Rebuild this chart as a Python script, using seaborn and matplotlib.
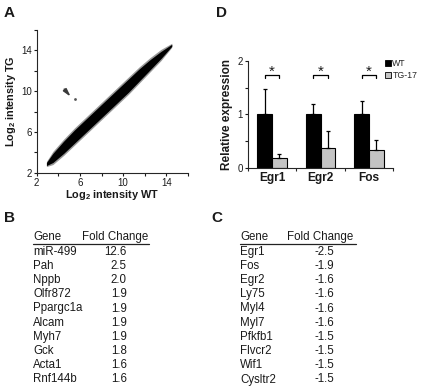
import matplotlib
matplotlib.use("Agg")
import matplotlib.pyplot as plt
from matplotlib.patches import Patch
import seaborn as sns
import pandas as pd
import numpy as np

# ---- Panel A: microarray cloud (band) ----
cloud_x = [2.9, 3.5, 4.5, 5.5, 6.5, 7.5, 8.5, 9.5, 10.5, 11.5, 12.5, 13.5, 14.5]
cloud_lo = [2.7, 3.0, 3.9, 4.9, 5.9, 6.9, 7.9, 8.9, 9.9, 11.0, 12.1, 13.2, 14.4]
cloud_hi = [3.0, 3.9, 5.1, 6.2, 7.2, 8.2, 9.2, 10.2, 11.2, 12.2, 13.1, 13.9, 14.6]
halo_lo = [2.6, 2.8, 3.7, 4.7, 5.7, 6.7, 7.7, 8.7, 9.7, 10.8, 11.9, 13.0, 14.3]
halo_hi = [3.1, 4.1, 5.3, 6.4, 7.4, 8.4, 9.4, 10.4, 11.4, 12.4, 13.3, 14.1, 14.7]
outlier_wt = [5.5]
outlier_tg = [9.2]

# ---- Panel B / C: tables ----
up_genes = ["miR-499", "Pah", "Nppb", "Olfr872", "Ppargc1a", "Alcam", "Myh7", "Gck", "Acta1", "Rnf144b"]
up_fold = ["12.6", "2.5", "2.0", "1.9", "1.9", "1.9", "1.9", "1.8", "1.6", "1.6"]
down_genes = ["Egr1", "Fos", "Egr2", "Ly75", "Myl4", "Myl7", "Pfkfb1", "Flvcr2", "Wif1", "Cysltr2"]
down_fold = ["-2.5", "-1.9", "-1.6", "-1.6", "-1.6", "-1.6", "-1.5", "-1.5", "-1.5", "-1.5"]

# ---- Panel D: qPCR ----
qpcr_genes = ["Egr1", "Egr2", "Fos"]
wt_mean = [1.0, 1.0, 1.0]
wt_err = [0.47, 0.20, 0.25]
tg_mean = [0.19, 0.36, 0.33]
tg_err = [0.06, 0.33, 0.18]

sns.set_style("ticks")
plt.rcParams["font.family"] = ["Liberation Sans", "DejaVu Sans"]
plt.rcParams["mathtext.fontset"] = "custom"
plt.rcParams["mathtext.rm"] = "Liberation Sans"
plt.rcParams["mathtext.bf"] = "Liberation Sans:bold"

W, H = 421, 390
fig = plt.figure(figsize=(W / 100, H / 100), dpi=100)


def px_axes(left, top, right, bottom):
    return fig.add_axes([left / W, 1 - bottom / H, (right - left) / W, (bottom - top) / H])


txt = "#1a1a1a"

# ---------------- A ----------------
axA = px_axes(36.7, 30, 188, 172.7)
axA.fill_between(cloud_x, halo_lo, halo_hi, color="#333333", alpha=0.5, lw=0)
axA.fill_between(cloud_x, cloud_lo, cloud_hi, color="black", lw=0)
sns.scatterplot(x=outlier_wt, y=outlier_tg, ax=axA, color="#555555", s=4, linewidth=0)
axA.annotate("", xy=(5.15, 9.45), xytext=(4.55, 10.2),
             arrowprops=dict(arrowstyle="-|>,head_length=0.45,head_width=0.12",
                             color="#3a3a3a", lw=1.1, shrinkA=0, shrinkB=0))
axA.set_xlim(2, 16)
axA.set_ylim(2, 16)
axA.set_xticks(np.arange(2, 17, 2))
axA.set_yticks(np.arange(2, 17, 2))
axA.set_xticklabels([str(v) if v % 4 == 2 else "" for v in range(2, 17, 2)])
axA.set_yticklabels([str(v) if v % 4 == 2 else "" for v in range(2, 17, 2)])
axA.tick_params(labelsize=7, length=2.5, width=0.8, pad=1, colors=txt)
axA.set_xlabel(r"Log$_\mathbf{2}$ intensity WT", fontsize=7.8, fontweight="bold", labelpad=0, color=txt)
axA.set_ylabel(r"Log$_\mathbf{2}$ intensity TG", fontsize=7.8, fontweight="bold", labelpad=2, color=txt)
sns.despine(ax=axA)
for s in ["left", "bottom"]:
    axA.spines[s].set_linewidth(0.8)

# ---------------- D ----------------
axD = px_axes(247.7, 61, 393.3, 167.7)
df = pd.DataFrame({
    "gene": qpcr_genes * 2,
    "group": ["WT"] * 3 + ["TG-17"] * 3,
    "value": wt_mean + tg_mean,
})
sns.barplot(data=df, x="gene", y="value", hue="group", order=qpcr_genes,
            hue_order=["WT", "TG-17"], palette=["black", "#c4c4c4"],
            edgecolor="black", linewidth=0.8, width=0.6, gap=0,
            errorbar=None, legend=False, ax=axD)
bars = axD.patches
errs = wt_err + tg_err
vals = wt_mean + tg_mean
centers = []
for b, v, e in zip(bars, vals, errs):
    cx = b.get_x() + b.get_width() / 2
    centers.append(cx)
    axD.errorbar(cx, v, yerr=[[0], [e]], fmt="none", ecolor="black",
                 elinewidth=0.9, capsize=1.5, capthick=0.9)
for i in range(3):
    x0, x1 = centers[i], centers[i + 3]
    axD.plot([x0, x0, x1, x1], [1.68, 1.74, 1.74, 1.68], color="black", lw=0.9)
    axD.text((x0 + x1) / 2, 1.80, "*", ha="center", va="center", fontsize=11, color=txt)
axD.set_xlim(-0.5, 2.5)
axD.set_ylim(0, 2)
axD.set_yticks([0, 0.5, 1, 1.5, 2])
axD.set_yticklabels(["0", "", "1", "", "2"])
axD.set_xticks([-0.5, 0.5, 1.5, 2.5], minor=True)
axD.tick_params(axis="x", which="major", length=0, pad=3)
axD.tick_params(axis="x", which="minor", length=2.5, width=0.8)
axD.tick_params(axis="y", length=2.5, width=0.8, labelsize=7, pad=1, colors=txt)
for lab in axD.get_xticklabels():
    lab.set_fontweight("bold")
    lab.set_fontsize(8.6)
    lab.set_color(txt)
axD.set_xlabel("")
axD.set_ylabel("Relative expression", fontsize=8.5, fontweight="bold", labelpad=3, color=txt)
sns.despine(ax=axD)
for s in ["left", "bottom"]:
    axD.spines[s].set_linewidth(0.8)
handles = [Patch(facecolor="black", edgecolor="black", lw=0.6, label="WT"),
           Patch(facecolor="#c4c4c4", edgecolor="black", lw=0.6, label="TG-17")]
axD.legend(handles=handles, loc="upper left", bbox_to_anchor=(0.94, 1.02), frameon=False,
           fontsize=6.3, handlelength=0.7, handleheight=0.7, handletextpad=0.2,
           labelspacing=0.35, borderaxespad=0, borderpad=0)

# ---------------- B / C tables ----------------
def table(gene_x, fold_x, val_x, line_x1, genes, folds):
    hy = 236.7
    fig.text(gene_x / W, 1 - hy / H, "Gene", fontsize=8.3, va="center", color=txt)
    fig.text(fold_x / W, 1 - hy / H, "Fold Change", fontsize=8.3, va="center", color=txt)
    fig.add_artist(plt.Line2D([gene_x / W, line_x1 / W], [1 - 243.5 / H] * 2,
                              color="#222222", lw=0.9))
    for i, (g, f) in enumerate(zip(genes, folds)):
        y = 1 - (251.7 + i * 14.2) / H
        fig.text(gene_x / W, y, g, fontsize=8.3, va="center", color=txt)
        fig.text(val_x / W, y, f, fontsize=8.3, va="center", ha="right", color=txt)


table(33, 81.7, 126.7, 149, up_genes, up_fold)
table(240, 287.3, 334, 356, down_genes, down_fold)

# panel letters
for lab, x, y in [("A", 4, 13), ("D", 216, 13), ("B", 4, 218), ("C", 211, 218)]:
    fig.text(x / W, 1 - y / H, lab, fontsize=11, fontweight="bold", va="center", color=txt)

fig.savefig("out.png", dpi=100)
